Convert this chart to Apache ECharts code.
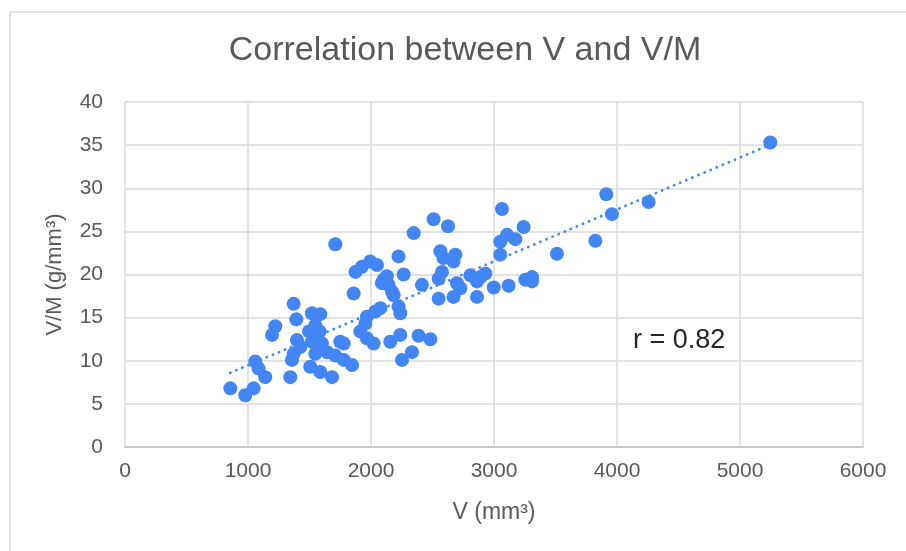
<!DOCTYPE html>
<html>
<head>
<meta charset="utf-8">
<script src="https://cdn.jsdelivr.net/npm/echarts@6/dist/echarts.min.js"></script>
<style>html,body{margin:0;padding:0;background:#fff;}#c{width:906px;height:551px;}</style>
</head>
<body>
<div id="c"></div>
<script>
// Data
const vValues = [856, 978, 1046, 1059, 1086, 1140, 1195, 1222, 1344, 1357, 1371, 1371, 1393, 1398, 1425, 1496, 1506, 1520, 1520, 1547, 1547, 1582, 1588, 1588, 1601, 1642, 1683, 1710, 1710, 1750, 1778, 1778, 1846, 1859, 1874, 1927, 1913, 1954, 1967, 1967, 1994, 2021, 2035, 2049, 2076, 2089, 2102, 2129, 2143, 2171, 2184, 2157, 2224, 2224, 2238, 2238, 2252, 2265, 2333, 2347, 2387, 2414, 2482, 2509, 2550, 2550, 2577, 2564, 2590, 2626, 2671, 2686, 2671, 2699, 2726, 2808, 2862, 2862, 2889, 2930, 2998, 3051, 3051, 3065, 3106, 3119, 3173, 3241, 3254, 3309, 3309, 3512, 3824, 3913, 3959, 4257, 5246];
const vmValues = [6.8, 6.0, 6.8, 9.9, 9.1, 8.1, 13.0, 14.0, 8.1, 10.1, 10.8, 16.6, 14.8, 12.4, 11.6, 13.4, 9.3, 15.5, 12.2, 14.1, 10.8, 13.4, 15.4, 8.7, 12.0, 11.0, 8.1, 10.6, 23.5, 12.2, 10.1, 12.0, 9.5, 17.8, 20.3, 20.9, 13.4, 14.3, 15.1, 12.6, 21.5, 12.0, 15.7, 21.1, 16.1, 19.0, 19.4, 19.8, 18.8, 18.0, 17.6, 12.2, 22.1, 16.3, 15.5, 13.0, 10.1, 20.0, 11.0, 24.8, 12.9, 18.8, 12.5, 26.4, 17.2, 19.5, 20.3, 22.7, 21.9, 25.6, 21.5, 22.3, 17.4, 19.0, 18.4, 19.9, 19.2, 17.4, 19.7, 20.1, 18.5, 22.3, 23.8, 27.6, 24.6, 18.7, 24.1, 25.5, 19.4, 19.7, 19.2, 22.4, 23.9, 29.3, 27.0, 28.4, 35.3];
const xTicks = [0, 1000, 2000, 3000, 4000, 5000, 6000];
const yTicks = [0, 5, 10, 15, 20, 25, 30, 35, 40];
const rLabel = 'r = 0.82';

const points = vValues.map((v, i) => [v, vmValues[i]]);
// least-squares linear trend line
const n = vValues.length;
const mx = vValues.reduce((a, b) => a + b, 0) / n;
const my = vmValues.reduce((a, b) => a + b, 0) / n;
let sxy = 0, sxx = 0;
for (let i = 0; i < n; i++) { sxy += (vValues[i] - mx) * (vmValues[i] - my); sxx += (vValues[i] - mx) ** 2; }
const slope = sxy / sxx, intercept = my - slope * mx;
const xMin = Math.min(...vValues), xMax = Math.max(...vValues);
const trend = [[xMin, intercept + slope * xMin], [xMax, intercept + slope * xMax]];

const FONT = '"Liberation Sans", Arial, sans-serif';
const chart = echarts.init(document.getElementById('c'), null, {renderer: 'canvas'});
chart.setOption({
  animation: false,
  backgroundColor: '#ffffff',
  grid: {left: 125, right: 43, top: 102, bottom: 104, containLabel: false},
  graphic: [
    {type: 'rect', shape: {x: 10, y: 12, width: 1000, height: 1000}, style: {fill: 'none', stroke: '#d9d9d9', lineWidth: 1.5}, z: -1},
    {type: 'text', style: {text: 'Correlation between V and V/M', font: '34px ' + FONT, fill: '#595959', textAlign: 'center', textVerticalAlign: 'middle'}, position: [465, 51], silent: true},
    {type: 'text', style: {text: rLabel, font: '27px ' + FONT, fill: '#262626', textAlign: 'left', textVerticalAlign: 'middle'}, position: [633, 341], z: 10}
  ],
  xAxis: {
    type: 'value', min: xTicks[0], max: xTicks[xTicks.length - 1], interval: xTicks[1] - xTicks[0],
    name: 'V (mm³)', nameLocation: 'middle', nameGap: 54,
    nameTextStyle: {fontFamily: FONT, fontSize: 23, color: '#595959'},
    axisLine: {show: true, lineStyle: {color: '#bfbfbf', width: 1.5}},
    axisTick: {show: false},
    axisLabel: {fontFamily: FONT, fontSize: 21, color: '#595959', margin: 14, formatter: v => String(v)},
    splitLine: {show: true, lineStyle: {color: '#d9d9d9', width: 1.5}}
  },
  yAxis: {
    type: 'value', min: yTicks[0], max: yTicks[yTicks.length - 1], interval: yTicks[1] - yTicks[0],
    name: 'V/M (g/mm³)', nameLocation: 'middle', nameGap: 59, nameRotate: 90,
    nameTextStyle: {fontFamily: FONT, fontSize: 22, color: '#595959'},
    axisLine: {show: false},
    axisTick: {show: false},
    axisLabel: {fontFamily: FONT, fontSize: 21, color: '#595959', margin: 22, formatter: v => String(v)},
    splitLine: {show: true, lineStyle: {color: '#d9d9d9', width: 1.5}}
  },
  series: [
    {type: 'scatter', data: points, symbol: 'circle', symbolSize: 14, itemStyle: {color: '#4285f4', opacity: 1}, z: 3},
    {type: 'line', data: trend, symbol: 'none', lineStyle: {color: '#4285f4', width: 2.8, type: [0.1, 6.5], cap: 'round'}, z: 4, silent: true}
  ]
});
</script>
</body>
</html>
